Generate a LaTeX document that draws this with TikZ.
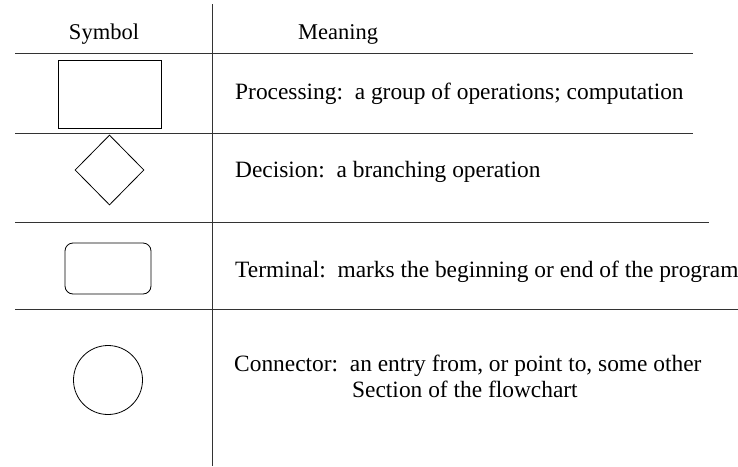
\documentclass[tikz,border=0pt]{standalone}
\usepackage{fontspec}
\setmainfont{Liberation Serif}
\usetikzlibrary{shapes.geometric}

\begin{document}
\begin{tikzpicture}[x=1pt,y=-1pt,
  rule/.style={line width=0.8pt, black!80},
  sym/.style={draw, line width=0.8pt, inner sep=0pt},
  txt/.style={anchor=west, inner sep=0pt, font=\fontsize{23.4}{26}\selectfont},
  head/.style={inner sep=0pt, font=\fontsize{22.5}{26}\selectfont}]
\useasboundingbox (0,0) rectangle (738,466);
% table rules
\draw[rule] (212,4) -- (212,466);
\draw[rule] (15,53) -- (693,53);
\draw[rule] (15,133) -- (693,133);
\draw[rule] (15,222) -- (709,222);
\draw[rule] (15,309) -- (738,309);
% header
\node[head] (hsym) at (104,34) {Symbol};
\node[head, anchor=west] (hmean) at (298,34) {Meaning};
% symbols
\node[sym, rectangle, minimum width=103, minimum height=68] (proc) at (109.5,94){};
\node[sym, diamond, minimum width=69, minimum height=70] (dec) at (109.5,170){};
\node[sym, rectangle, rounded corners=8, minimum width=86, minimum height=51] (term) at (108,268.5){};
\node[sym, circle, minimum size=69] (conn) at (108,380){};
% meanings
\node[txt] (tproc) at (235,94) {Processing:\ \ a group of operations; computation};
\node[txt] (tdec) at (235,172) {Decision:\ \ a branching operation};
\node[txt] (tterm) at (235,272) {Terminal:\ \ marks the beginning or end of the program};
\node[txt, align=left] (tconn) at (234,376) {Connector:\ \ an entry from, or point to, some other\\\hspace*{118pt}Section of the flowchart};

\end{tikzpicture}
\end{document}
